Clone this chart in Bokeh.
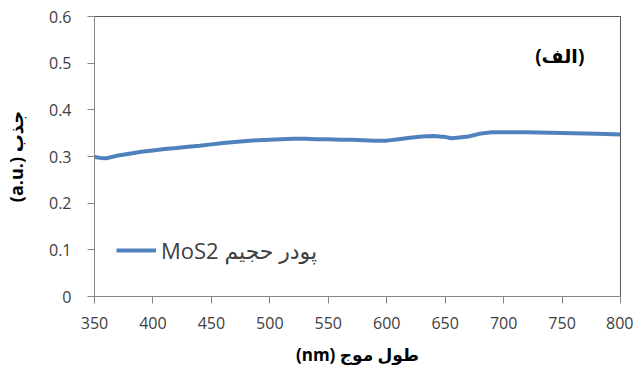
from bokeh.plotting import figure
from bokeh.models import Label, Legend, LegendItem, FixedTicker
from bokeh.embed import file_html
from bokeh.resources import INLINE

# Data
wavelength = [350, 355, 360, 370, 380, 390, 400, 410, 420, 430, 440, 450, 460, 470,
              480, 490, 500, 510, 520, 530, 540, 550, 560, 570, 580, 590, 600, 610,
              620, 630, 640, 650, 655, 660, 670, 680, 690, 700, 720, 740, 760, 780, 800]
absorbance = [0.299, 0.297, 0.296, 0.302, 0.306, 0.310, 0.313, 0.316, 0.318, 0.321,
              0.323, 0.326, 0.329, 0.331, 0.333, 0.335, 0.336, 0.337, 0.338, 0.338,
              0.337, 0.337, 0.336, 0.336, 0.335, 0.334, 0.334, 0.337, 0.340, 0.343,
              0.344, 0.342, 0.339, 0.340, 0.343, 0.349, 0.352, 0.352, 0.352, 0.351,
              0.350, 0.349, 0.347]
series_name = "MoS2 پودر حجیم"
x_ticks = [350, 400, 450, 500, 550, 600, 650, 700, 750, 800]
y_ticks = [0, 0.1, 0.2, 0.3, 0.4, 0.5, 0.6]
y_tick_labels = {0: "0"}
x_title = "(nm) طول موج"
y_title = "(a.u.) جذب"
panel_tag = "(الف)"
panel_tag_pos = (748, 0.516)

FONT = "'Open Sans', 'DejaVu Sans'"
TXT = "#404040"

p = figure(width=633, height=378, output_backend="svg", toolbar_location=None,
           x_range=(350, 800), y_range=(0, 0.6),
           min_border_left=93, min_border_right=13, min_border_top=16, min_border_bottom=82)

r = p.line(wavelength, absorbance, line_color="#4F81BD", line_width=4)

p.xgrid.grid_line_color = None
p.ygrid.grid_line_color = None
p.outline_line_color = "#595959"
p.outline_line_width = 1

p.xaxis.ticker = FixedTicker(ticks=x_ticks)
p.yaxis.ticker = FixedTicker(ticks=y_ticks)
p.yaxis.major_label_overrides = y_tick_labels

for ax in (p.xaxis[0], p.yaxis[0]):
    ax.axis_line_color = "#868686"
    ax.major_tick_line_color = "#868686"
    ax.major_tick_out = 7
    ax.major_tick_in = 0
    ax.minor_tick_line_color = None
    ax.major_label_text_font = FONT
    ax.major_label_text_font_size = "16px"
    ax.major_label_text_color = TXT
    ax.axis_label_text_font = FONT
    ax.axis_label_text_font_style = "bold"
    ax.axis_label_text_color = "#000000"

p.xaxis.axis_label_text_font_size = "17px"
p.yaxis.axis_label_text_font_size = "18px"
p.xaxis.major_label_standoff = 13
p.yaxis.major_label_standoff = 16
p.xaxis.axis_label = x_title
p.yaxis.axis_label = y_title
p.xaxis.axis_label_standoff = 11
p.yaxis.axis_label_standoff = 18

legend = Legend(items=[LegendItem(label=series_name, renderers=[r])],
                location=(22, 31), margin=0, padding=0, spacing=0,
                glyph_width=40, glyph_height=20, label_standoff=5,
                label_text_font=FONT, label_text_font_size="22px",
                label_text_color=TXT, background_fill_alpha=0,
                border_line_color=None)
p.add_layout(legend)

p.add_layout(Label(x=panel_tag_pos[0], y=panel_tag_pos[1],
                   text=panel_tag, text_font=FONT, text_font_size="19px",
                   text_font_style="bold", text_color="#000000",
                   text_align="center", text_baseline="middle"))

open("out.html", "w").write(file_html(p, INLINE))
